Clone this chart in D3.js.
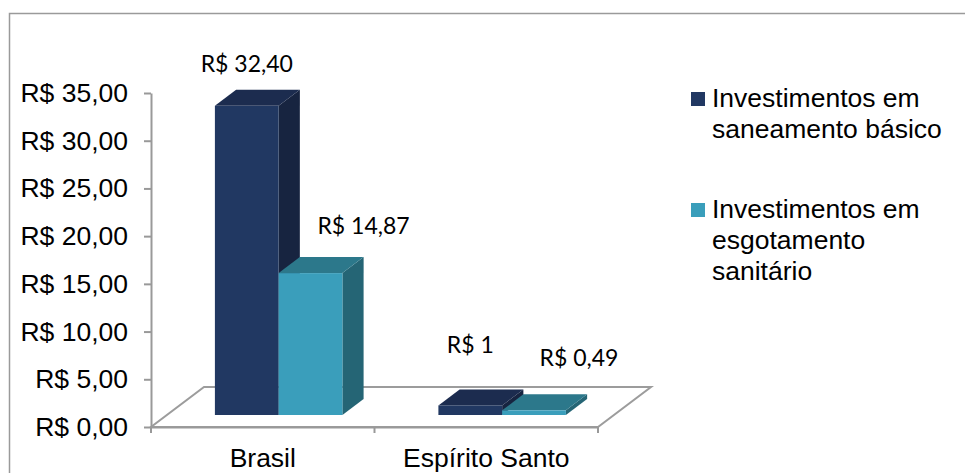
<!DOCTYPE html>
<html>
<head>
<meta charset="utf-8">
<script src="https://cdn.jsdelivr.net/npm/d3@7/dist/d3.min.js"></script>
<style>
  body { margin: 0; background: #fff; }
  svg { display: block; }
</style>
</head>
<body>
<div id="chart"></div>
<script>
"use strict";

// data
const categories = ["Brasil", "Espírito Santo"];
const saneamento = [32.4, 1];
const esgotamento = [14.87, 0.49];
const saneamentoLabels = ["R$ 32,40", "R$ 1"];
const esgotamentoLabels = ["R$ 14,87", "R$ 0,49"];
const yTicks = [0, 5, 10, 15, 20, 25, 30, 35];
const legendLines = [
  ["Investimentos em", "saneamento básico"],
  ["Investimentos em", "esgotamento", "sanitário"],
];

const width = 965;
const height = 473;

// 3d look: full floor depth and where the bars sit in it
const depthX = 53;
const depthY = -40;
const zFront = 0.3;
const zBack = 0.7;

const colors = [
  { front: "#213862", top: "#1c2c4f", side: "#172440" },
  { front: "#3a9ebb", top: "#2c788b", side: "#256575" },
];
// label nudges (px) from the bar's front-top centre, per series per category
const labelNudge = [
  [[0, -34], [0, -52]],
  [[53, -39], [45, -44]],
];

const svg = d3
  .select("#chart")
  .append("svg")
  .attr("width", width)
  .attr("height", height);

// outer chart frame
svg
  .append("rect")
  .attr("x", 9.5)
  .attr("y", 13.5)
  .attr("width", 1000)
  .attr("height", 1000)
  .attr("fill", "none")
  .attr("stroke", "#9a9a9a")
  .attr("stroke-width", 1.5);

///////////////////////////////////
// scales
///////////////////////////////////

const x = d3.scaleBand().domain(categories).range([151, 598]);
const x1 = d3
  .scaleBand()
  .domain([0, 1])
  .range([0, x.bandwidth()])
  .paddingInner(0)
  .paddingOuter(0.753);
const y = d3.scaleLinear().domain([0, 35]).range([427, 93]);

const proj = (px, v, z) => [px + z * depthX, y(v) + z * depthY];
const poly = (pts) => pts.map((p) => p.join(",")).join(" ");

///////////////////////////////////
// floor
///////////////////////////////////

const [fx0, fx1] = x.range();
svg
  .append("polygon")
  .attr(
    "points",
    poly([proj(fx0, 0, 0), proj(fx1, 0, 0), proj(fx1, 0, 1), proj(fx0, 0, 1)])
  )
  .attr("fill", "#fff")
  .attr("stroke", "#9c9c9c")
  .attr("stroke-width", 2);

///////////////////////////////////
// bars
///////////////////////////////////

const series = [saneamento, esgotamento];
const seriesLabels = [saneamentoLabels, esgotamentoLabels];

categories.forEach((cat, ci) => {
  series.forEach((vals, si) => {
    const v = vals[ci];
    const xa = x(cat) + x1(si);
    const xb = xa + x1.bandwidth();
    const g = svg.append("g").attr("class", "bar");
    g.append("polygon")
      .attr(
        "points",
        poly([proj(xb, 0, zFront), proj(xb, v, zFront), proj(xb, v, zBack), proj(xb, 0, zBack)])
      )
      .attr("fill", colors[si].side);
    g.append("polygon")
      .attr(
        "points",
        poly([proj(xa, v, zFront), proj(xb, v, zFront), proj(xb, v, zBack), proj(xa, v, zBack)])
      )
      .attr("fill", colors[si].top);
    const [ax, ay] = proj(xa, v, zFront);
    const [, by] = proj(xa, 0, zFront);
    g.append("rect")
      .attr("x", ax)
      .attr("y", ay)
      .attr("width", xb - xa)
      .attr("height", by - ay)
      .attr("fill", colors[si].front);

    // value label
    const [cx, cy] = proj((xa + xb) / 2, v, zFront);
    svg
      .append("text")
      .attr("x", cx + labelNudge[si][ci][0])
      .attr("y", cy + labelNudge[si][ci][1])
      .attr("text-anchor", "middle")
      .style("font-family", "Lato, 'Open Sans', sans-serif")
      .style("font-size", "23px")
      .style("fill", "#000")
      .text(seriesLabels[si][ci]);
  });
});

///////////////////////////////////
// axes
///////////////////////////////////

const fmt = (d) => "R$ " + d.toFixed(2).replace(".", ",");

const yAxis = svg
  .append("g")
  .attr("transform", "translate(151,0)")
  .call(d3.axisLeft(y).tickValues(yTicks).tickFormat(fmt).tickSize(7).tickSizeOuter(0).tickPadding(16));

const xAxis = svg
  .append("g")
  .attr("transform", "translate(0,427)")
  .call(d3.axisBottom(x).tickSize(0).tickPadding(21));

// boundary ticks between categories
xAxis
  .selectAll(".bound")
  .data(categories.map((c) => x(c)).concat([fx1]))
  .enter()
  .append("line")
  .attr("class", "bound")
  .attr("x1", (d) => d)
  .attr("x2", (d) => d)
  .attr("y1", 0)
  .attr("y2", 6);

[yAxis, xAxis].forEach((ax) => {
  ax.selectAll("path, line").attr("stroke", "#999").attr("stroke-width", 2);
  ax.selectAll("text")
    .style("font-family", "'Liberation Sans', Arial, sans-serif")
    .style("font-size", "26.5px")
    .attr("fill", "#000");
});

///////////////////////////////////
// legend
///////////////////////////////////

const legend = svg
  .selectAll(".legend")
  .data(legendLines)
  .enter()
  .append("g")
  .attr("class", "legend")
  .attr("transform", (d, i) => `translate(691,${107 + i * 111})`);

legend
  .append("rect")
  .attr("x", 0)
  .attr("y", -15)
  .attr("width", 14)
  .attr("height", 14)
  .attr("fill", (d, i) => colors[i].front);

legend
  .append("text")
  .style("font-family", "'Liberation Sans', Arial, sans-serif")
  .style("font-size", "26.5px")
  .attr("fill", "#000")
  .selectAll("tspan")
  .data((d) => d)
  .enter()
  .append("tspan")
  .attr("x", 21)
  .attr("y", (d, i) => i * 31)
  .text((d) => d);
</script>
</body>
</html>
